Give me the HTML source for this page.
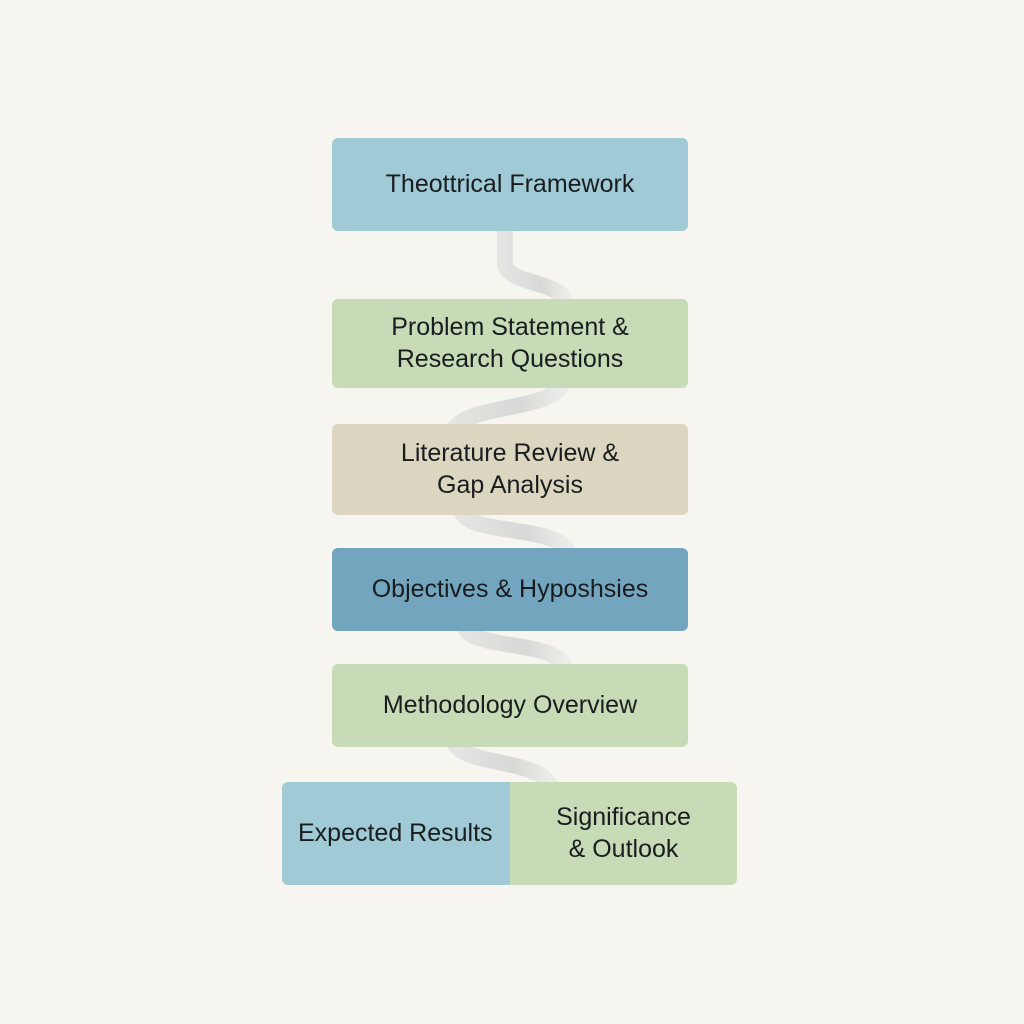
<!DOCTYPE html>
<html><head><meta charset="utf-8"><style>
html,body{margin:0;padding:0;}
body{width:1024px;height:1024px;background:#f6f5ef;position:relative;overflow:hidden;font-family:"Liberation Sans","DejaVu Sans",sans-serif;}
.b{position:absolute;border-radius:6px;display:flex;align-items:center;justify-content:center;text-align:center;color:#1a1d1f;font-size:25px;line-height:31.5px;}
svg{position:absolute;left:0;top:0;}
</style></head><body>
<svg width="1024" height="1024">
<defs><linearGradient id="g" x1="0" x2="1"><stop offset="0" stop-color="#e4e4e2"/><stop offset="0.6" stop-color="#d8d8d6"/><stop offset="1" stop-color="#ececea"/></linearGradient></defs>
<g fill="none" stroke="url(#g)" stroke-width="16" stroke-linecap="butt">
<path d="M505 228 L505 262 C505 285 560 280 566 302"/>
<path d="M562 385 C550 410 470 405 455 428"/>
<path d="M462 512 C470 535 555 525 568 551"/>
<path d="M465 628 C475 650 555 640 565 667"/>
<path d="M455 744 C465 765 540 760 550 785"/>
</g>
</svg>
<div class="b" style="left:332px;top:138px;width:356px;height:93px;background:#9fcad6;">Theottrical Framework</div>
<div class="b" style="left:332px;top:299px;width:356px;height:89px;background:#c6dbb6;">Problem Statement &amp;<br>Research Questions</div>
<div class="b" style="left:332px;top:424px;width:356px;height:91px;background:#dcd6c1;">Literature Review &amp;<br>Gap Analysis</div>
<div class="b" style="left:332px;top:548px;width:356px;height:83px;background:#73a5be;">Objectives &amp; Hyposhsies</div>
<div class="b" style="left:332px;top:664px;width:356px;height:83px;background:#c6dbb6;">Methodology Overview</div>
<div class="b" style="left:282px;top:782px;width:240px;height:103px;background:#9fcad6;border-radius:6px 0 0 6px;justify-content:flex-start;padding-left:16px;box-sizing:border-box;">Expected Results</div>
<div class="b" style="left:510px;top:782px;width:227px;height:103px;background:#c6dbb6;border-radius:0 6px 6px 0;">Significance<br>&amp; Outlook</div>
</body></html>
